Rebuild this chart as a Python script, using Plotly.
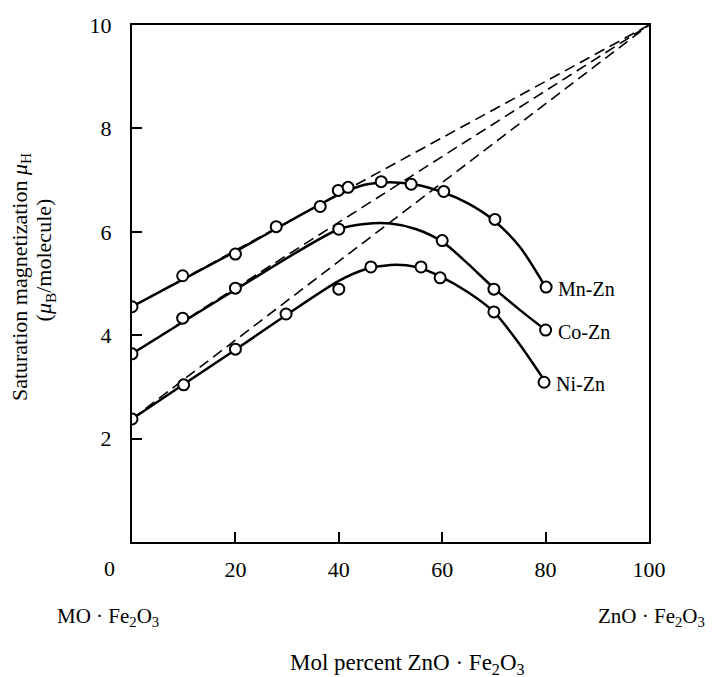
import plotly.graph_objects as go

# ---- data ----
# measured points (mol % ZnO·Fe2O3, saturation magnetization)
mn_x = [0, 9.8, 20, 27.9, 36.4, 39.9, 41.8, 48.2, 54.0, 60.3, 70.2, 80.1]
mn_y = [4.55, 5.15, 5.57, 6.10, 6.49, 6.80, 6.86, 6.97, 6.92, 6.78, 6.24, 4.93]

co_x = [0, 9.8, 20, 40, 60, 70, 80]
co_y = [3.64, 4.33, 4.91, 6.05, 5.83, 4.89, 4.10]

ni_x = [0, 10, 20, 29.8, 40, 46.2, 55.9, 59.6, 70, 79.7]
ni_y = [2.38, 3.04, 3.73, 4.41, 4.89, 5.32, 5.32, 5.11, 4.45, 3.09]

# smooth curves drawn through the points
mn_cx = [0, 20, 40, 45, 50, 55, 60, 65, 70, 75, 80]
mn_cy = [4.55, 5.62, 6.72, 6.91, 6.96, 6.91, 6.77, 6.55, 6.22, 5.71, 4.93]

co_cx = [0, 20, 40, 45, 50, 55, 60, 65, 70, 75, 80]
co_cy = [3.64, 4.88, 6.05, 6.15, 6.16, 6.05, 5.81, 5.38, 4.91, 4.49, 4.10]

ni_cx = [0, 10, 20, 30, 40, 45, 50, 55, 60, 65, 70, 75, 80]
ni_cy = [2.38, 3.05, 3.72, 4.40, 5.05, 5.27, 5.36, 5.32, 5.12, 4.83, 4.45, 3.82, 3.09]

# dashed extrapolations to ZnO·Fe2O3 (100 %, 10 μB)
dash_x = [0, 100]
dash_mn = [4.55, 10]
dash_co = [3.64, 10]
dash_ni = [2.38, 10]

series_labels = ["Mn-Zn", "Co-Zn", "Ni-Zn"]

x_ticks = [20, 40, 60, 80, 100]
y_ticks = [2, 4, 6, 8, 10]

FONT = "Liberation Serif, Times New Roman, serif"

fig = go.Figure()

for dy in (dash_mn, dash_co, dash_ni):
    fig.add_trace(go.Scatter(x=dash_x, y=dy, mode="lines",
                             line=dict(color="black", width=1.6, dash="11px,6px"),
                             hoverinfo="skip", showlegend=False))

for cx, cy in ((mn_cx, mn_cy), (co_cx, co_cy), (ni_cx, ni_cy)):
    fig.add_trace(go.Scatter(x=cx, y=cy, mode="lines",
                             line=dict(color="black", width=2.5, shape="spline", smoothing=0.8),
                             hoverinfo="skip", showlegend=False))

for px, py in ((mn_x, mn_y), (co_x, co_y), (ni_x, ni_y)):
    fig.add_trace(go.Scatter(x=px, y=py, mode="markers",
                             marker=dict(symbol="circle", size=11, color="white",
                                         line=dict(color="black", width=2)),
                             showlegend=False))

# series labels at end points
for lab, px, py in zip(series_labels, (mn_x, co_x, ni_x), (mn_y, co_y, ni_y)):
    fig.add_annotation(x=px[-1], y=py[-1], text=lab, showarrow=False,
                       xanchor="left", yanchor="middle", xshift=10, yshift=-2,
                       font=dict(family=FONT, size=20, color="black"))

# corner "0" label
fig.add_annotation(x=0, y=0, text="0", showarrow=False, xanchor="center", yanchor="top",
                   xshift=-23, yshift=-12, font=dict(family=FONT, size=22, color="black"))

# end-member labels
fig.add_annotation(xref="paper", yref="paper", x=-0.046, y=-0.146, text="MO · Fe<sub>2</sub>O<sub>3</sub>",
                   showarrow=False, xanchor="center", yanchor="middle",
                   font=dict(family=FONT, size=21, color="black"))
fig.add_annotation(xref="paper", yref="paper", x=1.004, y=-0.146, text="ZnO · Fe<sub>2</sub>O<sub>3</sub>",
                   showarrow=False, xanchor="center", yanchor="middle",
                   font=dict(family=FONT, size=21, color="black"))
fig.add_annotation(xref="paper", yref="paper", x=0.532, y=-0.236,
                   text="Mol percent ZnO · Fe<sub>2</sub>O<sub>3</sub>",
                   showarrow=False, xanchor="center", yanchor="middle",
                   font=dict(family=FONT, size=23, color="black"))

# y title (two lines)
fig.add_annotation(xref="paper", yref="paper", x=-0.216, y=0.513,
                   text="Saturation magnetization <i>μ</i><sub>H</sub>",
                   showarrow=False, textangle=-90, xanchor="center", yanchor="middle",
                   font=dict(family=FONT, size=22, color="black"))
fig.add_annotation(xref="paper", yref="paper", x=-0.168, y=0.545,
                   text="(<i>μ</i><sub>B</sub>/molecule)",
                   showarrow=False, textangle=-90, xanchor="center", yanchor="middle",
                   font=dict(family=FONT, size=22, color="black"))

axis_common = dict(showgrid=False, zeroline=False, showline=True, linecolor="black",
                   linewidth=2.2, mirror=True, ticks="inside", ticklen=10, tickwidth=2,
                   tickcolor="black", tickfont=dict(family=FONT, size=22, color="black"))

fig.update_xaxes(range=[0, 100], tickvals=x_ticks, ticktext=[str(v) for v in x_ticks],
                 ticklabelstandoff=6, **axis_common)
fig.update_yaxes(range=[0, 10], tickvals=y_ticks, ticktext=[str(v) for v in y_ticks],
                 ticklabelstandoff=14, **axis_common)

fig.update_layout(width=712, height=677, margin=dict(l=132, r=63, t=25, b=135),
                  plot_bgcolor="white", paper_bgcolor="white",
                  font=dict(family=FONT, color="black"))

fig.write_html("out.html")
